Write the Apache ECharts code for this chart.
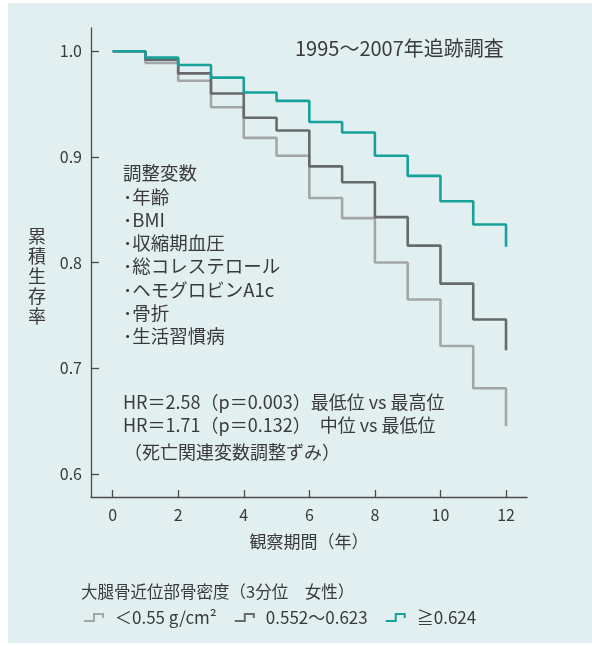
<!DOCTYPE html>
<html lang="ja">
<head>
    <meta charset="UTF-8">
    <title>累積生存率</title>
    <style>
        html, body { margin: 0; padding: 0; background: #ffffff; }
        #panel { position: absolute; left: 8px; top: 3px; width: 584px; height: 640px; background: #e2eff0; }
        #main { position: absolute; left: 0; top: 0; width: 592px; height: 646px; }
    </style>
</head>
<body>
<div id="panel"></div>
<div id="main"></div>

<script src="https://cdn.jsdelivr.net/npm/echarts@6/dist/echarts.min.js"></script>
<script>

    // 観察期間（年）
    const years = [0, 1, 2, 3, 4, 5, 6, 7, 8, 9, 10, 11, 12];
    // 累積生存率（3分位）
    const lowBMD  = [1.0, 0.989, 0.972, 0.947, 0.918, 0.901, 0.861, 0.842, 0.800, 0.765, 0.721, 0.681, 0.645];
    const midBMD  = [1.0, 0.992, 0.979, 0.960, 0.937, 0.925, 0.891, 0.876, 0.843, 0.816, 0.780, 0.746, 0.717];
    const highBMD = [1.0, 0.994, 0.987, 0.975, 0.961, 0.953, 0.933, 0.923, 0.901, 0.882, 0.858, 0.836, 0.815];
    const seriesNames = ['＜0.55 g/cm²', '0.552〜0.623', '≧0.624'];
    const xTicks = [0, 2, 4, 6, 8, 10, 12];
    const yTicks = [0.6, 0.7, 0.8, 0.9, 1.0];

    const notes = ['調整変数', '･年齢', '･BMI', '･収縮期血圧', '･総コレステロール', '･ヘモグロビンA1c', '･骨折', '･生活習慣病'];

    const font = '"Noto Sans CJK JP", "Noto Sans", sans-serif';
    const textColor = '#3a3a3a';
    const axisColor = '#4a4a4a';
    const colors = ['#a3a6a8', '#676a6c', '#17a19b'];

    const toPairs = vals => years.map((y, i) => [y, vals[i]]);

    const stepLine = (name, vals, color) => ({
        name: name,
        type: 'line',
        step: 'end',
        data: toPairs(vals),
        symbol: 'none',
        color: color,
        lineStyle: {color: color, width: 2.6},
        animation: false
    });

    const noteTexts = notes.map((t, i) => ({
        type: 'text',
        left: 123,
        top: 164 + i * 23.3,
        style: {text: t, font: '18.5px ' + font, fill: textColor}
    }));

    const option = {
        backgroundColor: 'transparent',
        textStyle: {fontFamily: font},
        grid: {left: 91, right: 65, top: 28, bottom: 149},
        title: [
            {
                text: '1995〜2007年追跡調査',
                left: 290, top: 33,
                textStyle: {fontSize: 20, fontWeight: 'normal', color: textColor, fontFamily: font}
            },
            {
                text: '大腿骨近位部骨密度（3分位　女性）',
                left: 76, top: 578,
                textStyle: {fontSize: 16.5, fontWeight: 'normal', color: textColor, fontFamily: font}
            }
        ],
        legend: {
            data: seriesNames,
            left: 79, top: 604,
            icon: 'path://M0,7L9,7L9,0L20,0L20,5L18,5L18,2L11,2L11,9L0,9Z',
            itemWidth: 22, itemHeight: 9,
            itemGap: 18,
            textStyle: {fontSize: 17, color: textColor, fontFamily: font, padding: [0, 0, 0, 5]}
        },
        xAxis: {
            type: 'value',
            min: -0.66, max: 12.64,
            name: '観察期間（年）',
            nameLocation: 'middle',
            nameGap: 36,
            nameTextStyle: {fontSize: 17, color: textColor},
            splitLine: {show: false},
            axisLine: {onZero: false, lineStyle: {color: axisColor, width: 1.3}},
            axisTick: {inside: true, length: 7, customValues: xTicks, lineStyle: {color: axisColor, width: 1.3}},
            axisLabel: {customValues: xTicks, fontSize: 16, color: textColor, margin: 10}
        },
        yAxis: {
            type: 'value',
            min: 0.578, max: 1.022,
            splitLine: {show: false},
            axisLine: {show: true, onZero: false, lineStyle: {color: axisColor, width: 1.3}},
            axisTick: {show: true, inside: true, length: 8, customValues: yTicks, lineStyle: {color: axisColor, width: 1.3}},
            axisLabel: {customValues: yTicks, fontSize: 16, color: textColor, margin: 9,
                formatter: v => v.toFixed(1)}
        },
        graphic: noteTexts.concat([
            {
                // 縦書きの軸名
                type: 'text', left: 28, top: 226,
                style: {text: '累\n積\n生\n存\n率', font: '18px ' + font, lineHeight: 20, fill: textColor}
            },
            {
                type: 'text', left: 123, top: 393,
                style: {text: 'HR＝2.58（p＝0.003）最低位 vs 最高位', font: '18px ' + font, fill: textColor}
            },
            {
                type: 'text', left: 123, top: 416,
                style: {text: 'HR＝1.71（p＝0.132）　中位 vs 最低位', font: '18px ' + font, fill: textColor}
            },
            {
                type: 'text', left: 124, top: 443,
                style: {text: '（死亡関連変数調整ずみ）', font: '18px ' + font, fill: textColor}
            }
        ]),
        series: [
            stepLine(seriesNames[0], lowBMD, colors[0]),
            stepLine(seriesNames[1], midBMD, colors[1]),
            stepLine(seriesNames[2], highBMD, colors[2])
        ]
    };

    let myChart = echarts.init(document.getElementById('main'));
    myChart.setOption(option);
</script>
</body>
</html>
